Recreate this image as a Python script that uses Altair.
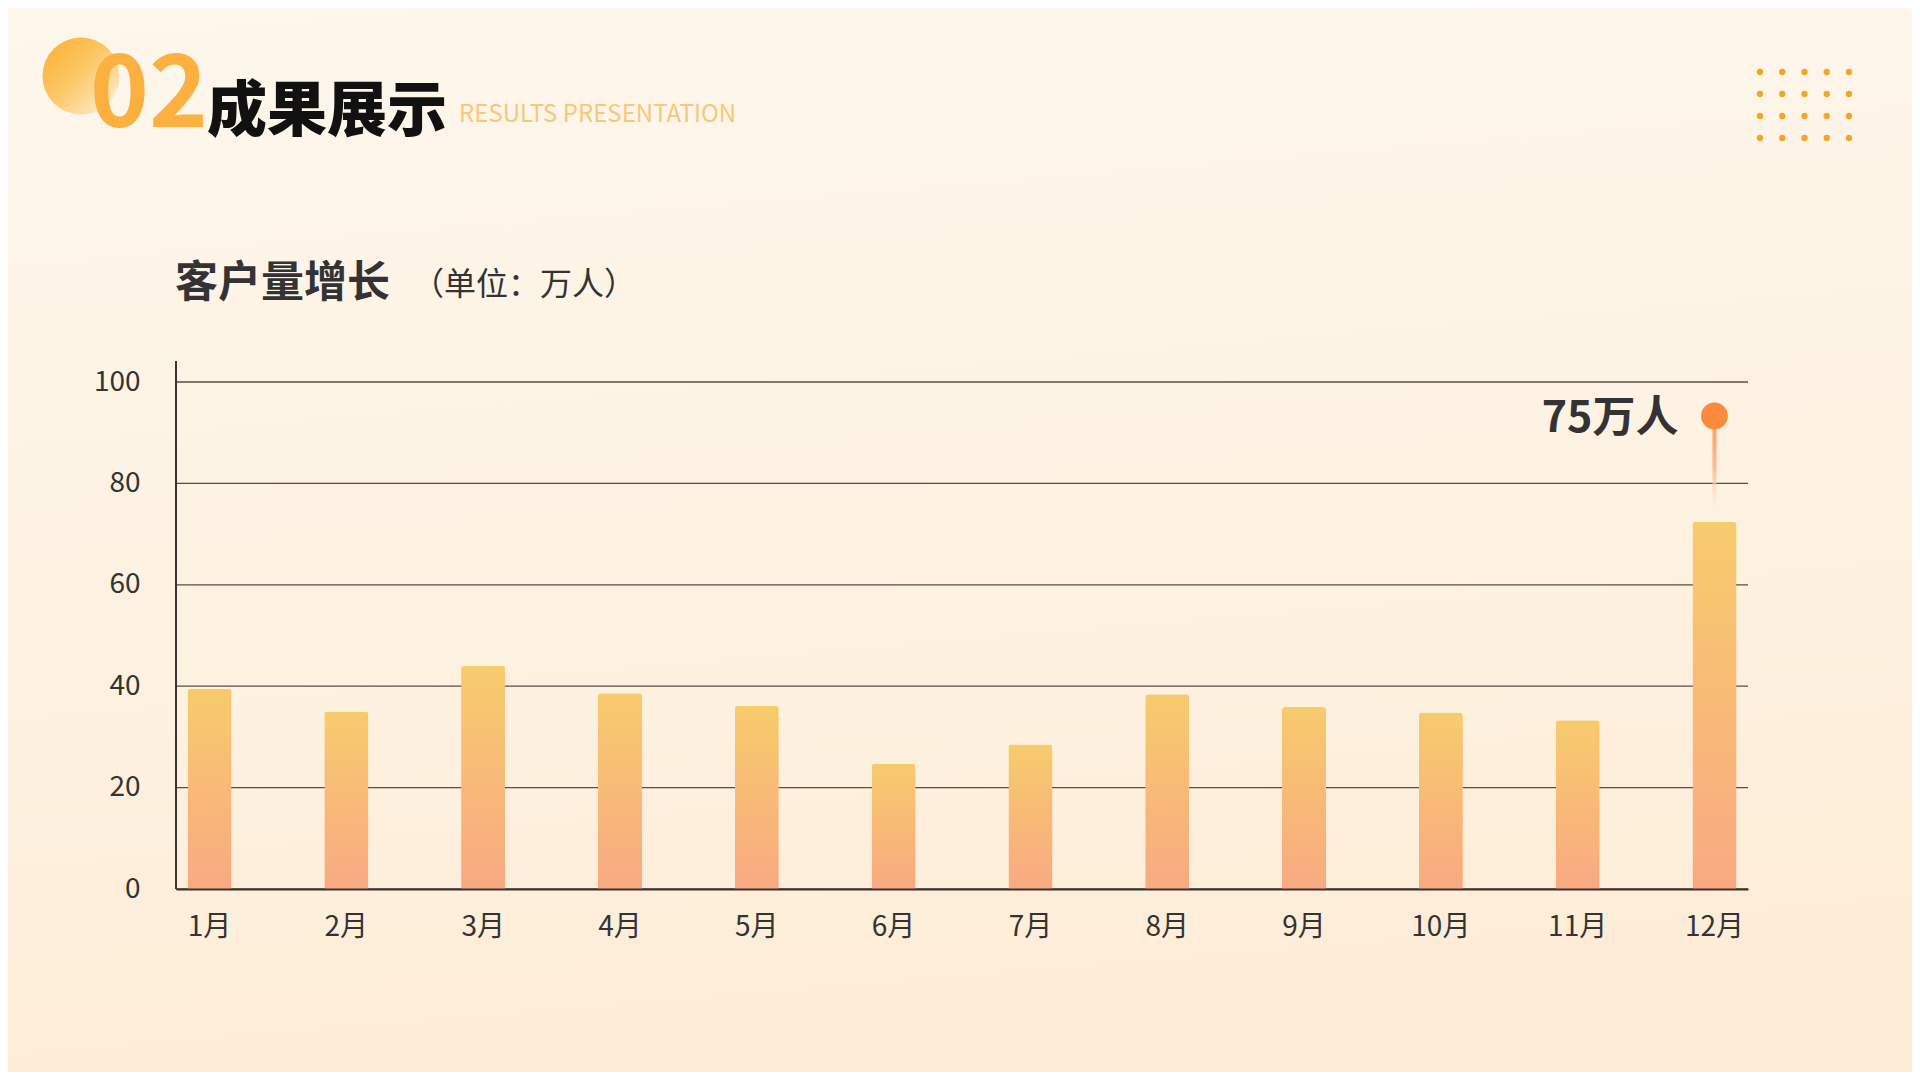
import altair as alt
import pandas as pd

# ---------------- data ----------------
months = ["1月", "2月", "3月", "4月", "5月", "6月",
          "7月", "8月", "9月", "10月", "11月", "12月"]
values = [39.5, 35.0, 44.0, 38.6, 36.1, 24.7, 28.5, 38.4, 35.9, 34.8, 33.3, 72.4]
y_ticks = [0, 20, 40, 60, 80, 100]

peak_month = "12月"
peak_label = "75万人"

header_num = "02"
header_cn = "成果展示"
header_en = "RESULTS PRESENTATION"
title_main = "客户量增长"
title_unit = "（单位：万人）"

dot_cols = [0, 1, 2, 3, 4]
dot_rows = [0, 1, 2, 3]

# ---------------- layout constants ----------------
W, H = 1572, 507
PAD_L, PAD_T = 168, 374
TOTAL_W, TOTAL_H = 1904, 1064
FONT = "Noto Sans CJK SC"

PEAK_MARK_Y = 93.3     # annotation dot height (axis units)
STEM_BOTTOM = 74.2     # bottom of annotation stem

df = pd.DataFrame({"month": months, "value": values})
peak_df = df[df["month"] == peak_month].copy()
peak_df["mark_y"] = PEAK_MARK_Y
peak_df["stem_bottom"] = STEM_BOTTOM
peak_df["label"] = peak_label
ticks_df = pd.DataFrame({"tick": y_ticks})

dots_df = pd.DataFrame([{"c": c, "r": r} for r in dot_rows for c in dot_cols])
one = pd.DataFrame({"k": [0]})


def xs():
    return alt.Scale(type="band", domain=months, paddingInner=0.678, paddingOuter=0.084)


def ys():
    return alt.Scale(domain=[0, 100], nice=False, zero=True)


# ---------------- background ----------------
bg = alt.Chart(one).mark_rect(
    color=alt.Gradient(
        gradient="linear",
        stops=[alt.GradientStop(color="#fdf7ec", offset=0),
               alt.GradientStop(color="#fdf2e2", offset=0.55),
               alt.GradientStop(color="#fdedd8", offset=1)],
        x1=0, x2=0.15, y1=0, y2=1,
    )
).encode(
    x=alt.value(-PAD_L), x2=alt.value(TOTAL_W - PAD_L),
    y=alt.value(-PAD_T), y2=alt.value(TOTAL_H - PAD_T),
)

# ---------------- header ----------------
head_circle = alt.Chart(one).mark_point(
    filled=True, shape="circle", size=5929, opacity=1, strokeWidth=0,
    color=alt.Gradient(
        gradient="linear",
        stops=[alt.GradientStop(color="#fbb43a", offset=0),
               alt.GradientStop(color="#fcc664", offset=0.45),
               alt.GradientStop(color="#fdebc8", offset=1)],
        x1=0.1, x2=0.9, y1=0.1, y2=0.9,
    ),
).encode(x=alt.value(-95), y=alt.value(-306))


def txt(text, x, y, size, color, weight="normal", font=FONT):
    return alt.Chart(one).mark_text(
        text=text, font=font, fontSize=size, fontWeight=weight, color=color,
        align="left", baseline="alphabetic",
    ).encode(x=alt.value(x), y=alt.value(y))


head_num = txt(header_num, -86, -255, 100, "#fbb040", "bold")
head_cn = txt(header_cn, 31, -251, 60, "#111111", 900)
head_en = txt(header_en, 283, -260, 24, "#f8c878")
t_main = txt(title_main, -1, -85, 43, "#333333", "bold")
t_unit = txt(title_unit, 236, -87, 32, "#333333")

dots = alt.Chart(dots_df).mark_circle(size=40, opacity=1, color="#f5a524").encode(
    x=alt.X("c:Q", scale=alt.Scale(domain=[0, 4], range=[1584, 1673]), axis=None),
    y=alt.Y("r:Q", scale=alt.Scale(domain=[0, 3], range=[-310, -244]), axis=None),
)

# ---------------- chart ----------------
grid = alt.Chart(ticks_df).mark_rule(color="#564e48", strokeWidth=1.3).encode(
    y=alt.Y("tick:Q", scale=ys(), axis=None),
    x=alt.value(0), x2=alt.value(W),
)

y_axis_line = alt.Chart(one).mark_rule(color="#3a3330", strokeWidth=2).encode(
    x=alt.value(0), y=alt.value(-21), y2=alt.value(H)
)

bars = alt.Chart(df).mark_bar(
    cornerRadiusTopLeft=3, cornerRadiusTopRight=3,
    color=alt.Gradient(
        gradient="linear",
        stops=[alt.GradientStop(color="#f7cb6c", offset=0),
               alt.GradientStop(color="#f9a982", offset=1)],
        x1=0, x2=0, y1=0, y2=1,
    ),
).encode(
    x=alt.X("month:N", scale=xs(), sort=months,
            axis=alt.Axis(title=None, labelAngle=0, ticks=False, domain=True,
                          domainColor="#3a3330", domainWidth=2, zindex=1,
                          labelFont=FONT, labelFontSize=28, labelFontWeight="normal",
                          labelColor="#333333", labelPadding=24, grid=False)),
    y=alt.Y("value:Q", scale=ys(),
            axis=alt.Axis(values=y_ticks, title=None, domain=False, ticks=False,
                          grid=False, zindex=1,
                          labelFont=FONT, labelFontSize=28, labelFontWeight="normal",
                          labelColor="#333333", labelPadding=36)),
)

stem = alt.Chart(peak_df).mark_bar(
    width=4,
    color=alt.Gradient(
        gradient="linear",
        stops=[alt.GradientStop(color="#fb9a55", offset=0),
               alt.GradientStop(color="#fbbf98", offset=0.55),
               alt.GradientStop(color="rgba(253,235,215,0)", offset=1)],
        x1=0, x2=0, y1=0, y2=1,
    ),
).encode(
    x=alt.X("month:N", scale=xs(), sort=months, axis=None),
    y=alt.Y("mark_y:Q", scale=ys(), axis=None),
    y2="stem_bottom:Q",
)

peak_dot = alt.Chart(peak_df).mark_point(
    filled=True, shape="circle", size=720, opacity=1, strokeWidth=0, color="#fb8a3c"
).encode(
    x=alt.X("month:N", scale=xs(), sort=months, axis=None),
    y=alt.Y("mark_y:Q", scale=ys(), axis=None),
)

peak_text = alt.Chart(peak_df).mark_text(
    font=FONT, fontSize=43, fontWeight="bold", color="#333333",
    align="right", baseline="middle", dx=-36, dy=3,
).encode(
    x=alt.X("month:N", scale=xs(), sort=months, axis=None),
    y=alt.Y("mark_y:Q", scale=ys(), axis=None),
    text="label:N",
)

chart = alt.layer(
    bg, head_circle, head_num, head_cn, head_en, dots, t_main, t_unit,
    grid, bars, y_axis_line, stem, peak_dot, peak_text,
).resolve_scale(
    x="independent", y="independent"
).properties(
    width=W, height=H,
    autosize=alt.AutoSizeParams(type="none"),
    padding={"left": PAD_L, "top": PAD_T, "right": TOTAL_W - PAD_L - W,
             "bottom": TOTAL_H - PAD_T - H},
).configure_view(stroke=None).configure(background="#fdf4e6")

chart.save("out.html", embed_options={"renderer": "svg", "actions": False})
